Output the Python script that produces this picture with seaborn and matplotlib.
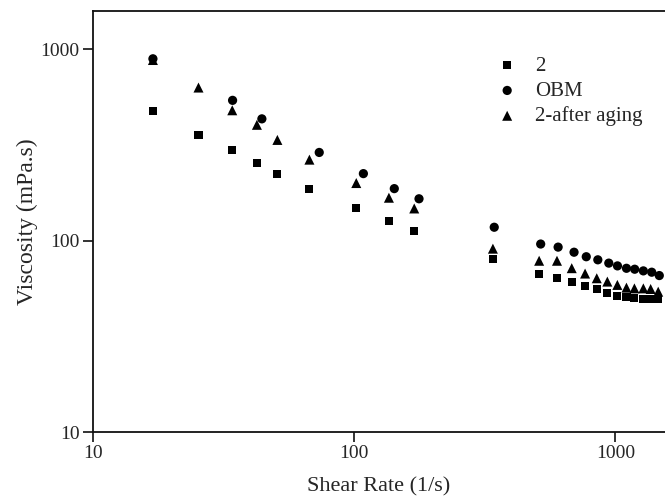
import matplotlib
matplotlib.use("Agg")
import matplotlib.pyplot as plt
import matplotlib.ticker as mticker
import seaborn as sns
import pandas as pd
import numpy as np

# ---- data ----
x_2 = [17, 25.4, 34.2, 42.5, 50.9, 67.5, 102, 136, 170, 340,
       511, 598, 681, 766, 849, 932, 1018, 1103, 1183, 1280, 1365, 1459]
y_2 = [475, 358, 298, 254, 223, 187, 148.6, 126.5, 112, 80,
       67, 64.1, 60.5, 58, 55.6, 53.2, 51.5, 50.5, 49.9, 49.5, 49.5, 49.5]

x_obm = [17, 34.3, 44.4, 73.6, 108.6, 142.6, 177.3, 344,
         518, 604, 695, 774, 857, 944, 1019, 1103, 1186, 1280, 1378, 1473]
y_obm = [892, 541, 433, 289, 224, 187, 165.5, 117.5,
         96, 92.5, 87, 82.4, 79.4, 76.3, 73.8, 71.7, 70.9, 69.5, 68.4, 65.7]

x_aged = [17, 25.4, 34.2, 42.5, 50.9, 67.5, 102, 136, 170, 340,
          511, 598, 681, 766, 849, 932, 1018, 1103, 1183, 1280, 1365, 1459]
y_aged = [879, 631, 480, 403, 336, 265, 200, 167.6, 147.3, 90.8,
          78.5, 78.5, 71.8, 67.3, 63.6, 61.1, 58.7, 56.8, 56.3, 56.3, 55.9, 54.1]

series_names = ["2", "OBM", "2-after aging"]
x_ticks = [10, 100, 1000]
y_ticks = [10, 100, 1000]

df = pd.concat([
    pd.DataFrame({"x": x_2, "y": y_2, "Sample": series_names[0]}),
    pd.DataFrame({"x": x_obm, "y": y_obm, "Sample": series_names[1]}),
    pd.DataFrame({"x": x_aged, "y": y_aged, "Sample": series_names[2]}),
], ignore_index=True)

sns.set_style("ticks")
plt.rcParams["font.family"] = ["Liberation Serif", "DejaVu Serif"]

fig = plt.figure(figsize=(6.65, 4.98), dpi=100)
ax = fig.add_axes([92.7 / 665, (498 - 432) / 498, 1 - 92.7 / 665, (432 - 10.7) / 498])

markers = {"2": "s", "OBM": "o", "2-after aging": "^"}
sizes = {"2": 34, "OBM": 44, "2-after aging": 52}
for name in series_names:
    sub = df[df["Sample"] == name]
    sns.scatterplot(data=sub, x="x", y="y", marker=markers[name], s=sizes[name],
                    color="black", edgecolor="none", linewidth=0, ax=ax,
                    label=name, zorder=3)

ax.set_xscale("log")
ax.set_yscale("log")
ax.set_xlim(10, 1549)
ax.set_ylim(10, 1591)
ax.xaxis.set_major_locator(mticker.FixedLocator(x_ticks))
ax.yaxis.set_major_locator(mticker.FixedLocator(y_ticks))
ax.xaxis.set_minor_locator(mticker.NullLocator())
ax.yaxis.set_minor_locator(mticker.NullLocator())
ax.xaxis.set_major_formatter(mticker.FixedFormatter([str(t) for t in x_ticks]))
ax.yaxis.set_major_formatter(mticker.FixedFormatter([str(t) for t in y_ticks]))

for side in ["left", "bottom", "top"]:
    ax.spines[side].set_linewidth(1.3)
    ax.spines[side].set_color("#111111")
ax.spines["right"].set_visible(False)
ax.tick_params(axis="both", which="major", direction="out", length=7, width=1.2,
               labelsize=14, pad=2.5, color="#111111")

ax.set_xlabel("Shear Rate (1/s)", fontsize=16, labelpad=11)
ax.set_ylabel("Viscosity (mPa.s)", fontsize=17, labelpad=2)

leg = ax.legend(loc="upper left", frameon=False, fontsize=15,
                handletextpad=0.34, labelspacing=0.26, borderaxespad=0)
leg.set_bbox_to_anchor((478 / 665, (498 - 48) / 498), transform=fig.transFigure)

fig.savefig("out.png", dpi=100)
